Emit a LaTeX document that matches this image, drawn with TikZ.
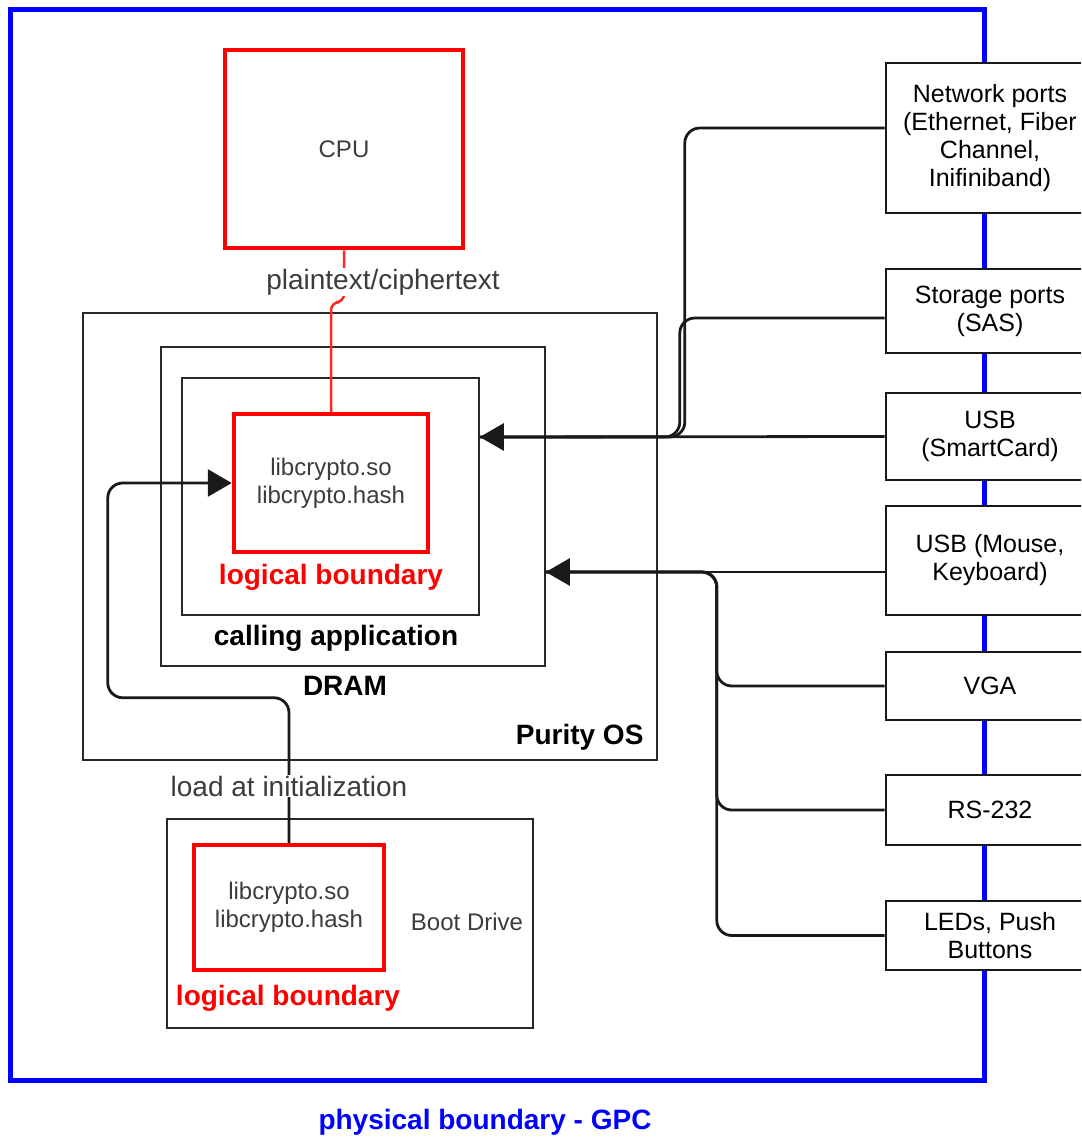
\documentclass[tikz,border=0pt]{standalone}
\usepackage{fontspec}
\setmainfont{Liberation Sans}
\usetikzlibrary{arrows.meta,positioning,calc}
\definecolor{lbred}{RGB}{255,0,0}
\definecolor{gpcblue}{RGB}{0,0,255}
\definecolor{txtgray}{RGB}{60,60,60}
\definecolor{boxgray}{RGB}{40,40,40}

\begin{document}
\begin{tikzpicture}[x=1pt,y=-1pt,
    areabox/.style={draw=boxgray,line width=1.6pt,inner sep=0pt},
    redbox/.style={draw=lbred,line width=4.5pt,inner sep=0pt,align=center,text=txtgray,font=\fontsize{24}{28}\selectfont},
    portbox/.style={draw=black!90,line width=2.6pt,fill=white,inner sep=0pt,minimum width=208pt,align=center,font=\fontsize{25}{28}\selectfont},
    boldlbl/.style={font=\fontsize{28}{32}\selectfont\bfseries},
    graylbl/.style={text=txtgray,font=\fontsize{28}{32}\selectfont,fill=white,inner sep=1pt},
    link/.style={draw=black!90,line width=2.8pt,rounded corners=15pt},
    tip/.style={-{Triangle[length=24pt,width=27pt]}}]
  \clip (0,0) rectangle (1081,1137);

  % physical boundary
  \node[draw=gpcblue,line width=5pt,minimum width=974pt,minimum height=1070pt,inner sep=0pt] (gpc) at (497,545) {};
  \node[boldlbl,text=gpcblue] (gpclbl) at (485,1122) {physical boundary - GPC};

  % ports on the boundary
  \foreach \pname/\py/\ph/\ptext in {net/138/150/{Network ports\\(Ethernet, Fiber\\Channel,\\Inifiniband)},
      sto/311/84/{Storage ports\\(SAS)},usbsc/436.5/87/{USB\\(SmartCard)},usbmk/560.5/109/{USB (Mouse,\\Keyboard)},
      vga/686/68/VGA,rs/810/70/RS-232,led/935.5/69/{LEDs, Push\\Buttons}}
    \node[portbox,minimum height=\ph pt] (\pname) at (990,\py) {\ptext};

  % CPU
  \node[redbox,minimum width=238pt,minimum height=198pt] (cpu) at (344,149) {CPU};

  % memory areas
  \node[areabox,minimum width=574pt,minimum height=447pt] (os) at (370,536.5) {};
  \node[areabox,minimum width=384pt,minimum height=319pt] (dram) at (353,506.5) {};
  \node[areabox,minimum width=297pt,minimum height=237pt] (app) at (330.5,496.5) {};
  \node[redbox,minimum width=194pt,minimum height=138pt] (lib) at (331,483) {libcrypto.so\\libcrypto.hash};
  \node[boldlbl,text=lbred] (liblbl) at (331,577) {logical boundary};
  \node[boldlbl] (applbl) at (336,638) {calling application};
  \node[boldlbl] (dramlbl) at (345,686) {DRAM};
  \node[boldlbl,anchor=east] (oslbl) at (647,737) {Purity OS};

  % boot drive
  \node[areabox,minimum width=366pt,minimum height=209pt] (boot) at (350,923.5) {};
  \node[redbox,minimum width=190pt,minimum height=125pt] (bootlib) at (289,907.5) {libcrypto.so\\libcrypto.hash};
  \node[boldlbl,text=lbred] (bootliblbl) at (288,998) {logical boundary};
  \node[text=txtgray,font=\fontsize{24}{28}\selectfont] (bootlbl) at (467,922) {Boot Drive};

  % connectors
  \draw[draw=lbred!85,line width=2.5pt,rounded corners=8pt] (cpu.south) -- ++(0,52) -| (lib.north);
  \node[graylbl] (ptlbl) at (383,282) {plaintext/ciphertext};

  \draw[link,tip] (bootlib.north) -- ++(0,-145) -| ([xshift=-124pt]lib.west) -- (lib.west);
  \node[graylbl] (loadlbl) at (289,786) {load at initialization};

  \coordinate (appport) at ([yshift=59.5pt]app.east);
  \coordinate (dramport) at ([yshift=-65.5pt]dram.east);
  \draw[link] ([yshift=10pt]net.west) -| ([xshift=205pt]appport) -- (appport);
  \draw[link] ([yshift=-7pt]sto.west) -| ([xshift=200pt]appport) -- (appport);
  \draw[link,tip] (usbsc.west) -- (appport);
  \foreach \src in {vga,rs,led}
    \draw[link] (\src.west) -| ([xshift=171pt]dramport) -- (dramport);
  \draw[link,tip] ([yshift=-11.5pt]usbmk.west) -- (dramport);
\end{tikzpicture}
\end{document}
